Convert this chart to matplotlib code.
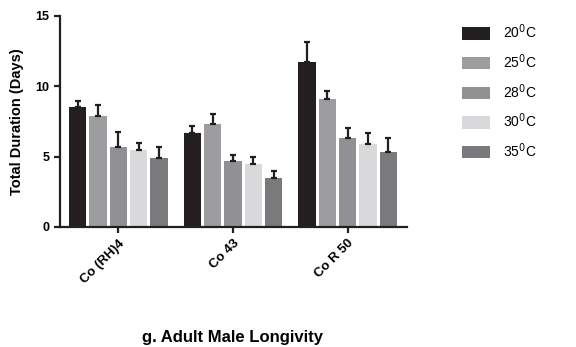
import numpy as np
from matplotlib import pyplot as plt

plt.rcParams['font.family'] = ['Liberation Sans', 'DejaVu Sans']

varieties = ['Co (RH)4', 'Co 43', 'Co R 50']
temps = ['20$^0$C', '25$^0$C', '28$^0$C', '30$^0$C', '35$^0$C']
t20 = [8.5, 6.7, 11.7]
t25 = [7.9, 7.3, 9.1]
t28 = [5.7, 4.7, 6.3]
t30 = [5.5, 4.5, 5.9]
t35 = [4.9, 3.5, 5.3]
err20 = [0.45, 0.45, 1.45]
err25 = [0.75, 0.75, 0.6]
err28 = [1.05, 0.45, 0.75]
err30 = [0.45, 0.45, 0.75]
err35 = [0.75, 0.45, 1.0]

colors = ['#231f20', '#9d9d9f', '#919193', '#d9d9db', '#7a7a7c']
means = [t20, t25, t28, t30, t35]
errs = [err20, err25, err28, err30, err35]

fig = plt.figure(figsize=(5.76, 3.47), dpi=100)
ax = fig.add_axes([0.104, 0.346, 0.603, 0.608])

x = np.arange(len(varieties))
step = 0.177
width = 0.15
for i in range(5):
	pos = x + (i - 2) * step
	ax.bar(pos, means[i], width, color=colors[i], label=temps[i],
		yerr=[[0] * len(x), errs[i]], error_kw=dict(ecolor='#231f20', elinewidth=1.6, capsize=2.5, capthick=1.6))

ax.set_xlim(-0.51, 2.52)
ax.set_ylim(0, 15)
ax.set_yticks([0, 5, 10, 15])
ax.set_xticks(x)
ax.set_xticklabels(varieties, rotation=45, ha='right', rotation_mode='anchor', fontsize=9.5, fontweight='bold')
for lab in ax.get_yticklabels():
	lab.set_fontweight('bold')
	lab.set_fontsize(9)
ax.set_ylabel('Total Duration (Days)', fontsize=10.5, fontweight='bold', labelpad=8)

for side in ['top', 'right']:
	ax.spines[side].set_visible(False)
for side in ['left', 'bottom']:
	ax.spines[side].set_linewidth(1.6)
	ax.spines[side].set_color('#231f20')
ax.tick_params(width=1.6, length=4, color='#231f20')

ax.legend(loc='upper left', bbox_to_anchor=(1.141, 0.995), frameon=False, fontsize=10,
	handlelength=2.0, handleheight=1.0, handletextpad=0.95, labelspacing=0.8, borderaxespad=0)

fig.text(0.403, 0.015, 'g. Adult Male Longivity', ha='center', fontsize=12, fontweight='bold')

plt.savefig('out.png', dpi=100)
